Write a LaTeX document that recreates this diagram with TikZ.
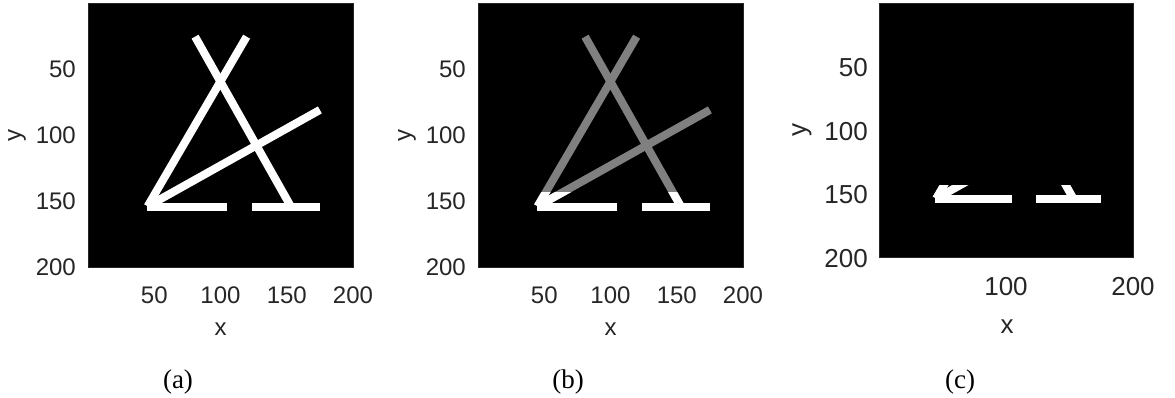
\documentclass[tikz,border=0pt]{standalone}
\usepackage{fontspec}
\setmainfont{Liberation Serif}
\newfontfamily\axfont{Liberation Sans}
\definecolor{axgray}{RGB}{38,38,38}
\definecolor{linegray}{RGB}{128,128,128}
\tikzset{
  seg/.style={line width=8pt, line cap=butt},
  ticka/.style={font=\axfont\fontsize{24}{24}\selectfont, text=axgray, inner sep=0pt},
  tickc/.style={font=\axfont\fontsize{26}{26}\selectfont, text=axgray, inner sep=0pt},
  capt/.style={font=\fontsize{27}{27}\selectfont, inner sep=0pt, anchor=base},
  axbox/.style={fill=black, draw=axgray, line width=0.6pt}
}
\newcommand\diaglines[1]{%
  \draw[seg,#1] (80.8,25.5) -- (153,154);
  \draw[seg,#1] (119.7,25.5) -- (45,154);
  \draw[seg,#1] (175,81) -- (45,154);
}
\newcommand\horbars{%
  \draw[seg,white] (44.3,154.3) -- (105,154.3);
  \draw[seg,white] (124,154.3) -- (175,154.3);
}
\begin{document}
\begin{tikzpicture}[x=1pt,y=1pt]
\useasboundingbox (0,0) rectangle (1175,-397);
% ---------- panel (a)
\begin{scope}[shift={(88,-3)}, x=1.325pt, y=-1.32pt]
  \path[axbox] (0,0) rectangle (200,200);
  \begin{scope}
    \clip (0,0) rectangle (200,200);
    \diaglines{white}
    \horbars
  \end{scope}
\end{scope}
\foreach \v/\yy in {50/69,100/135,150/201,200/267}
  \node[ticka, anchor=base east] (ay\v) at (76,-\yy-8.5) {\v};
\foreach \v/\xx in {50/154.3,100/220.5,150/286.8,200/353}
  \node[ticka, anchor=base] (ax\v) at (\xx,-303) {\v};
\node[ticka, anchor=base] (axl) at (220.5,-335) {x};
\node[ticka, rotate=90] (ayl) at (17,-135) {y};
\node[capt] (capa) at (178,-388) {(a)};
% ---------- panel (b)
\begin{scope}[shift={(478,-3)}, x=1.325pt, y=-1.32pt]
  \path[axbox] (0,0) rectangle (200,200);
  \begin{scope}
    \clip (0,0) rectangle (200,200);
    \diaglines{linegray}
  \end{scope}
  \begin{scope}
    \clip (0,143.5) rectangle (200,200);
    \diaglines{white}
  \end{scope}
  \horbars
\end{scope}
\foreach \v/\yy in {50/69,100/135,150/201,200/267}
  \node[ticka, anchor=base east] (by\v) at (466,-\yy-8.5) {\v};
\foreach \v/\xx in {50/544.3,100/610.5,150/676.8,200/743}
  \node[ticka, anchor=base] (bx\v) at (\xx,-303) {\v};
\node[ticka, anchor=base] (bxl) at (610.5,-335) {x};
\node[ticka, rotate=90] (byl) at (407,-135) {y};
\node[capt] (capb) at (568,-388) {(b)};
% ---------- panel (c)
\begin{scope}[shift={(879,-3)}, x=1.27pt, y=-1.27pt]
  \path[axbox] (0,0) rectangle (200,200);
  \begin{scope}
    \clip (0,143.5) rectangle (200,200);
    \diaglines{white}
  \end{scope}
  \horbars
\end{scope}
\foreach \v/\yy in {50/66.5,100/130,150/193.5,200/257}
  \node[tickc, anchor=base east] (cy\v) at (868,-\yy-10) {\v};
\foreach \v/\xx in {100/1006,200/1133}
  \node[tickc, anchor=base] (cx\v) at (\xx,-295) {\v};
\node[tickc, anchor=base] (cxl) at (1007,-333) {x};
\node[tickc, rotate=90] (cyl) at (802,-130) {y};
\node[capt] (capc) at (960,-388) {(c)};
\end{tikzpicture}
\end{document}
